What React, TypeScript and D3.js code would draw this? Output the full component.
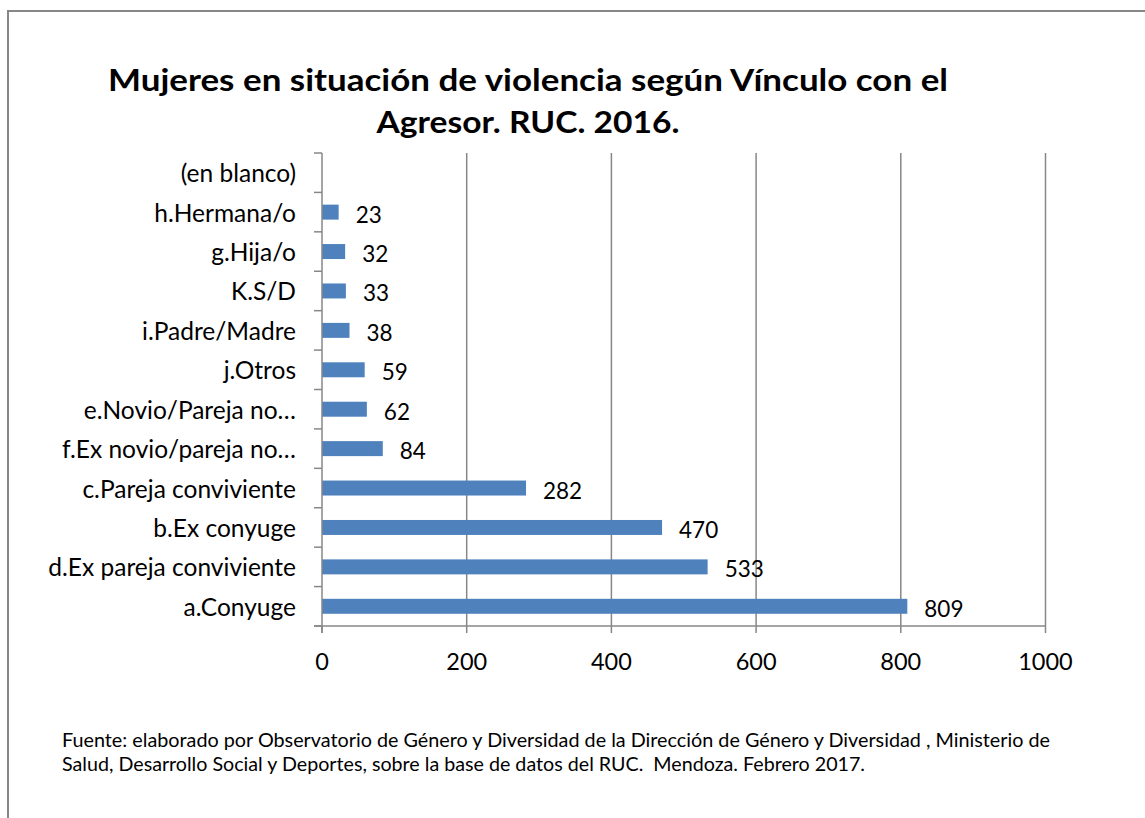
import React from "react";
import * as d3 from "d3";

const categories = [
  "(en blanco)",
  "h.Hermana/o",
  "g.Hija/o",
  "K.S/D",
  "i.Padre/Madre",
  "j.Otros",
  "e.Novio/Pareja no…",
  "f.Ex novio/pareja no…",
  "c.Pareja conviviente",
  "b.Ex conyuge",
  "d.Ex pareja conviviente",
  "a.Conyuge",
];
const values: (number | null)[] = [null, 23, 32, 33, 38, 59, 62, 84, 282, 470, 533, 809];
const xTicks = [0, 200, 400, 600, 800, 1000];
const titleLines = [
  "Mujeres en situación de violencia según Vínculo con el",
  "Agresor. RUC. 2016.",
];
const footerLines = [
  "Fuente: elaborado por Observatorio de Género y Diversidad de la Dirección de Género y Diversidad , Ministerio de",
  "Salud, Desarrollo Social y Deportes, sobre la base de datos del RUC.  Mendoza. Febrero 2017.",
];
const footerWidths = [988, 803];

const W = 1145;
const H = 818;
const FONT = "Lato, 'Open Sans', sans-serif";
const GRAY = "#878787";
const BAR = "#4F81BD";

export default function App() {
  const x = d3.scaleLinear().domain([0, 1000]).range([322, 1045.5]);
  const y = d3.scaleBand<string>().domain(categories).range([153, 626]).padding(0);
  const bw = y.bandwidth();
  const barH = bw * 0.38;
  const plotTop = 153;
  const plotBottom = 626;

  return (
    <svg
      width={W}
      height={H}
      style={{ position: "absolute", left: 0, top: 0, background: "#fff" }}
      fontFamily={FONT}
    >
      <rect x={8} y={11} width={W} height={H} fill="#fff" stroke={GRAY} strokeWidth={2} />

      {/* title */}
      <text x={528} y={91} textAnchor="middle" fontSize={31} fontWeight="bold" fill="#000"
        textLength={840} lengthAdjust="spacingAndGlyphs">
        {titleLines[0]}
      </text>
      <text x={528} y={133} textAnchor="middle" fontSize={31} fontWeight="bold" fill="#000"
        textLength={303} lengthAdjust="spacingAndGlyphs">
        {titleLines[1]}
      </text>

      {/* gridlines */}
      {xTicks.filter((t) => t > 0).map((t) => (
        <line key={"g" + t} x1={x(t)} x2={x(t)} y1={plotTop} y2={plotBottom} stroke={GRAY} strokeWidth={1.5} />
      ))}

      {/* bars */}
      {categories.map((c, i) => {
        const v = values[i];
        if (v == null) return null;
        const cy = (y(c) as number) + bw / 2;
        return (
          <g key={c}>
            <rect x={x(0)} y={cy - barH / 2} width={x(v) - x(0)} height={barH} fill={BAR} />
            <text x={x(v) + 17} y={cy + 2} dominantBaseline="central" fontSize={22.5} fill="#000">
              {v}
            </text>
          </g>
        );
      })}

      {/* y axis */}
      <line x1={x(0)} x2={x(0)} y1={plotTop} y2={plotBottom + 7} stroke={GRAY} strokeWidth={1.5} />
      {d3.range(categories.length + 1).map((i) => {
        const yy = plotTop + i * bw;
        return <line key={"yt" + i} x1={x(0) - 8} x2={x(0)} y1={yy} y2={yy} stroke={GRAY} strokeWidth={1.5} />;
      })}
      {categories.map((c) => (
        <text key={"l" + c} x={296} y={(y(c) as number) + bw / 2} dominantBaseline="central"
          textAnchor="end" fontSize={24.5} fill="#000">
          {c}
        </text>
      ))}

      {/* x axis */}
      <line x1={x(0) - 8} x2={x(1000)} y1={plotBottom} y2={plotBottom} stroke={GRAY} strokeWidth={1.5} />
      {xTicks.map((t) => (
        <g key={"xt" + t}>
          <line x1={x(t)} x2={x(t)} y1={plotBottom} y2={plotBottom + 7} stroke={GRAY} strokeWidth={1.5} />
          <text x={x(t)} y={661} textAnchor="middle" dominantBaseline="central" fontSize={23.5} fill="#000">
            {t}
          </text>
        </g>
      ))}

      {/* footer */}
      {footerLines.map((l, i) => (
        <text key={"f" + i} x={62} y={747 + i * 24} fontSize={19} fill="#000"
          style={{ whiteSpace: "pre" }}
          textLength={footerWidths[i]} lengthAdjust="spacingAndGlyphs">
          {l}
        </text>
      ))}
    </svg>
  );
}
